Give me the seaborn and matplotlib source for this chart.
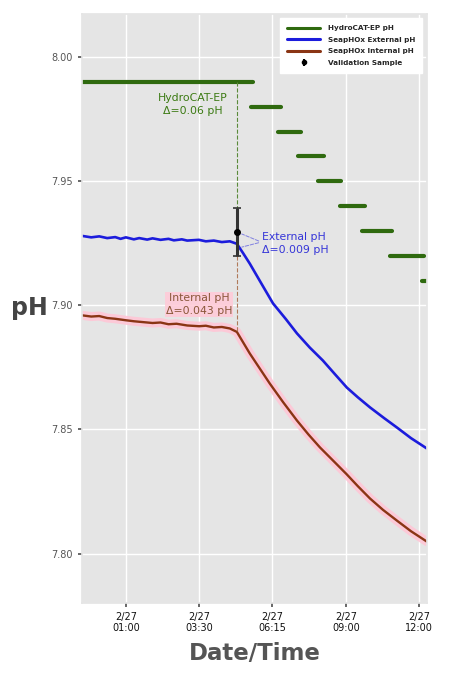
import numpy as np
import pandas as pd
import matplotlib
matplotlib.use("Agg")
import matplotlib.pyplot as plt
import seaborn as sns
from matplotlib.lines import Line2D

# ---------------- data (hours since 00:00 on 2/27) ----------------
tick_pos = [1.0, 3.75, 6.5, 9.25, 12.0]
tick_labels = ["2/27\n01:00", "2/27\n03:30", "2/27\n06:15", "2/27\n09:00", "2/27\n12:00"]

ext_t = [-0.65, -0.3, 0.0, 0.3, 0.6, 0.8, 1.0, 1.3, 1.5, 1.8, 2.0, 2.3, 2.6, 2.8, 3.1, 3.3,
         3.74, 4.0, 4.3, 4.6, 4.9, 5.165,
         5.4, 5.65, 6.1, 6.52, 7.0, 7.42, 7.9, 8.39, 8.85, 9.29, 9.7, 10.16, 10.7, 11.17, 11.7, 12.3]
ext_ph = [7.9280, 7.9274, 7.9278, 7.9271, 7.9275, 7.9268, 7.9274, 7.9266, 7.9271, 7.9265,
          7.9270, 7.9264, 7.9268, 7.9262, 7.9266, 7.9261, 7.9264, 7.9258, 7.9261, 7.9255,
          7.9258, 7.9248,
          7.9210, 7.9168, 7.9085, 7.9008, 7.8945, 7.8887, 7.8830, 7.8778, 7.8722, 7.8669,
          7.8630, 7.8589, 7.8545, 7.8508, 7.8465, 7.8423]

int_t = [-0.65, -0.3, 0.0, 0.3, 0.6, 1.0, 1.3, 1.6, 2.0, 2.3, 2.6, 2.9, 3.3, 3.75, 4.0,
         4.3, 4.6, 4.9, 5.165,
         5.65, 6.4, 6.9, 7.42, 7.85, 8.28, 8.8, 9.29, 9.7, 10.16, 10.65, 11.17, 11.7, 12.3]
int_ph = [7.8960, 7.8955, 7.8957, 7.8949, 7.8946, 7.8940, 7.8936, 7.8933, 7.8929, 7.8931,
          7.8924, 7.8926, 7.8919, 7.8916, 7.8918, 7.8911, 7.8913, 7.8907, 7.8893,
          7.8806, 7.8685, 7.8610, 7.8536, 7.8480, 7.8428, 7.8372, 7.8319, 7.8272, 7.8222,
          7.8176, 7.8133, 7.8090, 7.8048]

hc_start = [-0.65, 5.69, 6.70, 7.45, 8.20, 9.03, 9.86, 10.91, 12.11]
hc_end = [5.77, 6.82, 7.57, 8.43, 9.07, 9.97, 10.98, 12.18, 12.50]
hc_ph = [7.99, 7.98, 7.97, 7.96, 7.95, 7.94, 7.93, 7.92, 7.91]

val_t = [5.165]
val_ph = [7.9295]
val_err = [0.0097]

# ---------------- frames ----------------
ext_df = pd.DataFrame({"t": ext_t, "ph": ext_ph})
int_df = pd.DataFrame({"t": int_t, "ph": int_ph})
hc_rows = []
for i, (s, e, v) in enumerate(zip(hc_start, hc_end, hc_ph)):
    hc_rows.append({"seg": i, "t": s, "ph": v})
    hc_rows.append({"seg": i, "t": e, "ph": v})
hc_df = pd.DataFrame(hc_rows)

# ---------------- style ----------------
sns.set_theme(style="darkgrid", rc={
    "axes.facecolor": "#e5e5e5",
    "grid.color": "white",
    "grid.linewidth": 1.0,
    "axes.edgecolor": "#e5e5e5",
    "xtick.bottom": True,
    "ytick.left": True,
    "xtick.color": "#555555",
    "ytick.color": "#555555",
    "xtick.major.size": 3,
    "ytick.major.size": 3,
})
plt.rcParams["font.family"] = ["DejaVu Sans"]

GREEN = "#2f6a0f"
BLUE = "#1c1cdc"
BROWN = "#8a3514"
PINK = "#ffc6d6"

fig = plt.figure(figsize=(4.5, 6.75), dpi=100)
ax = fig.add_axes([0.182, 0.107, 0.767, 0.872])

# HydroCAT steps
sns.lineplot(data=hc_df, x="t", y="ph", units="seg", estimator=None,
             color=GREEN, lw=3.0, ax=ax, legend=False)
# external
sns.lineplot(data=ext_df, x="t", y="ph", color=BLUE, lw=1.9, ax=ax, legend=False)
# internal with pink glow
sns.lineplot(data=int_df, x="t", y="ph", color=PINK, lw=6.5, ax=ax, legend=False, alpha=0.9)
sns.lineplot(data=int_df, x="t", y="ph", color=BROWN, lw=1.7, ax=ax, legend=False)

# dashed connectors
ax.plot([val_t[0], val_t[0]], [hc_ph[0], val_ph[0]], ls="--", color="#5a8a3a", lw=0.8)
ax.plot([val_t[0], val_t[0]], [val_ph[0] - val_err[0], 7.8893], ls="--", color="#b07a5a", lw=0.8)

# validation sample
ax.errorbar(val_t, val_ph, yerr=val_err, fmt="o", color="black", ms=4,
            ecolor="#333333", elinewidth=2.2, capsize=3, capthick=1.2, zorder=5)

# annotations
ax.text(3.51, 7.981, "HydroCAT-EP\nΔ=0.06 pH", color="#3b7a12", fontsize=7.8,
        ha="center", va="center", linespacing=1.35)
ax.text(6.12, 7.925, "External pH\nΔ=0.009 pH", color="#3535d8", fontsize=7.8,
        ha="left", va="center", linespacing=1.35)
ax.text(3.74, 7.9005, "Internal pH\nΔ=0.043 pH", color="#8a5638", fontsize=7.8,
        ha="center", va="center", linespacing=1.35,
        bbox=dict(boxstyle="square,pad=0.1", fc="#ffcbd8", ec="none", alpha=0.9))
for yy in [val_ph[0] - 0.0003, 7.9232]:
    ax.annotate("", xy=(5.25, yy), xytext=(6.08, 7.9255),
                arrowprops=dict(arrowstyle="-", color="#8080e0", lw=0.7, ls="--"))

ax.set_xlim(-0.65, 12.3)
ax.set_ylim(7.7802, 8.0173)
ax.set_xticks(tick_pos)
ax.set_xticklabels(tick_labels, fontsize=7, color="#111111")
ax.set_yticks([7.80, 7.85, 7.90, 7.95, 8.00])
ax.set_yticklabels(["7.80", "7.85", "7.90", "7.95", "8.00"], fontsize=7, color="#555555")
ax.set_xlabel("Date/Time", fontsize=16.5, fontweight="bold", color="#555555", labelpad=6)
ax.set_ylabel("pH", fontsize=17, fontweight="bold", color="#444444", rotation=0,
              labelpad=16, va="center")

eb = ax.errorbar([], [], yerr=[], fmt="o", color="black", ms=3, elinewidth=1.5, capsize=2)
handles = [
    Line2D([0], [0], color=GREEN, lw=2.2),
    Line2D([0], [0], color=BLUE, lw=2.2),
    Line2D([0], [0], color=BROWN, lw=2.2),
    eb,
]
leg = ax.legend(handles, ["HydroCAT-EP pH", "SeapHOx External pH", "SeapHOx Internal pH",
                          "Validation Sample"],
                loc="upper right", bbox_to_anchor=(0.99, 0.996),
                prop={"weight": "bold", "size": 5.2}, frameon=True, fancybox=False,
                handlelength=4.6, borderpad=1.0, labelspacing=0.75, handletextpad=1.0,
                borderaxespad=0.2)
leg.get_frame().set_facecolor("white")
leg.get_frame().set_edgecolor("white")
leg.get_frame().set_alpha(1.0)

fig.savefig("out.png", dpi=100)
